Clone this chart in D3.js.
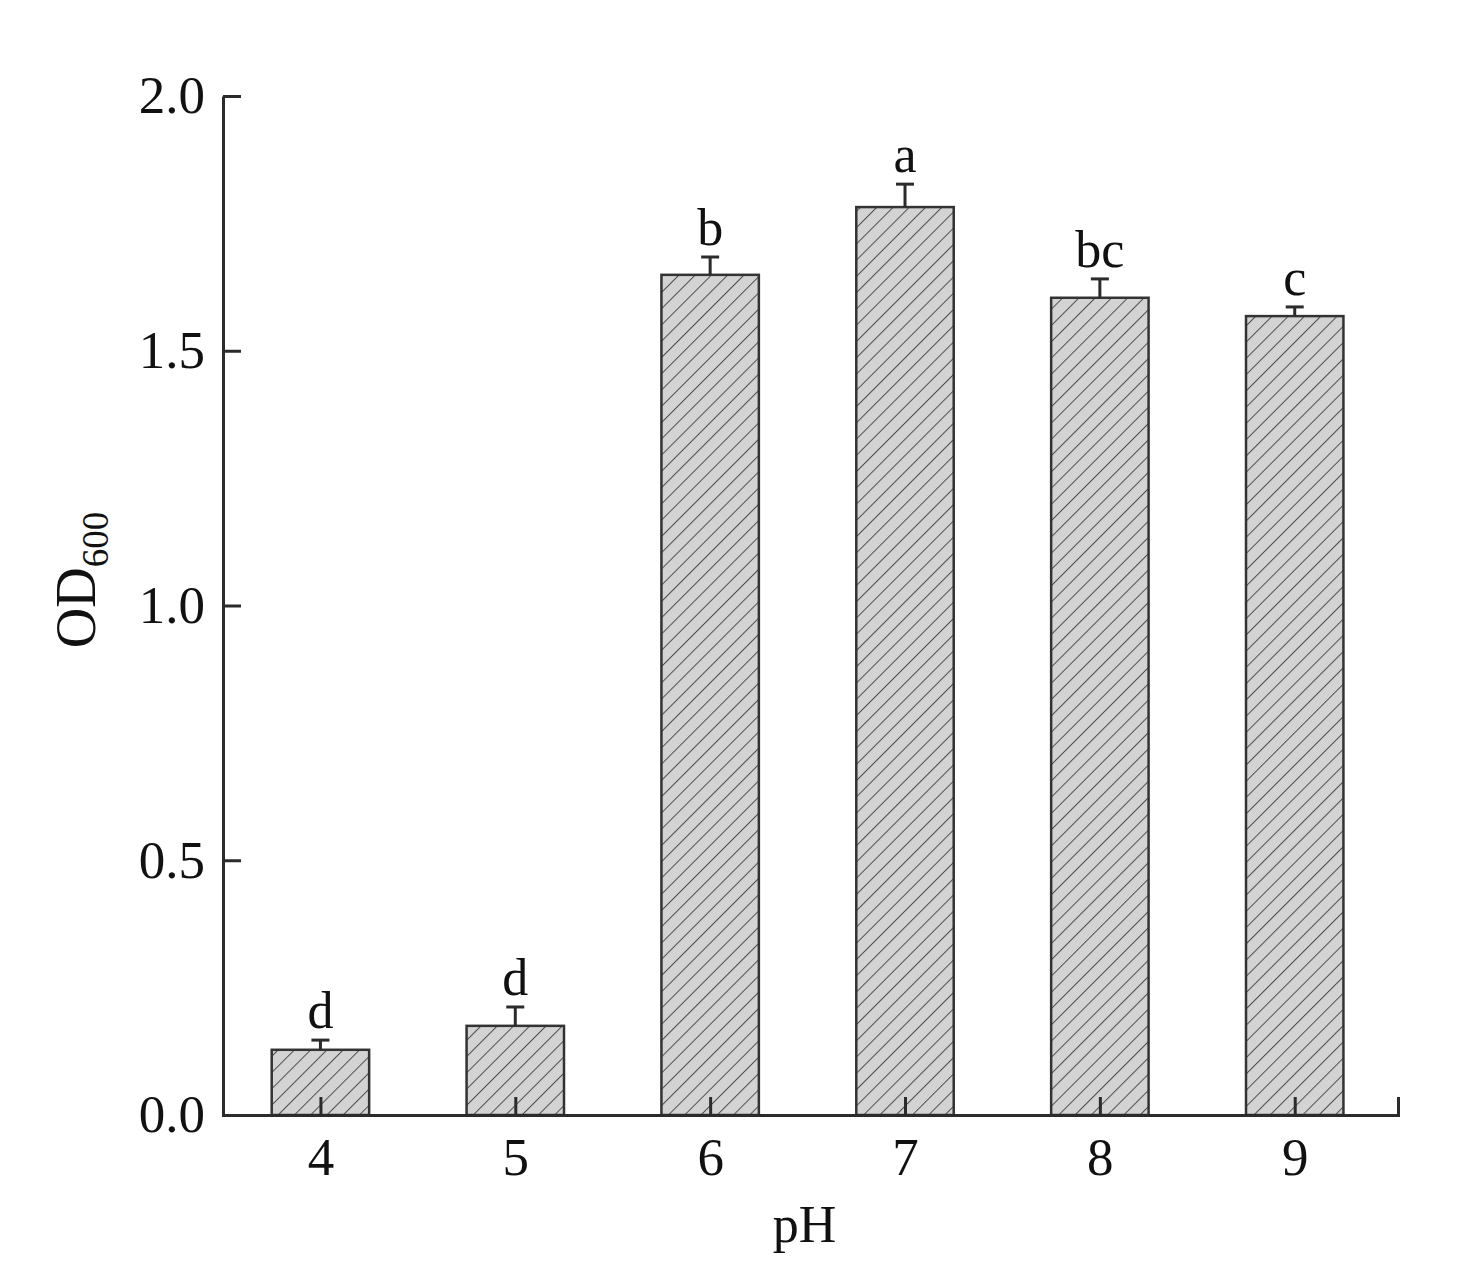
<!DOCTYPE html>
<html>
<head>
<meta charset="utf-8">
<script src="https://cdn.jsdelivr.net/npm/d3@7"></script>
<style>
  body { margin: 0; background: #fff; }
  svg { display: block; font-family: "Liberation Serif", "Times New Roman", serif; }
  .axis path, .axis line { stroke: #2b2b2b; stroke-width: 3; }
  .axis text { fill: #111; font-size: 53px; font-family: "Liberation Serif", serif; }
</style>
</head>
<body>
<div id="chart"></div>
<script>
// values
const phValues = [4, 5, 6, 7, 8, 9];
const odMeans = [0.128, 0.175, 1.649, 1.782, 1.604, 1.568];
const odErrors = [0.019, 0.037, 0.035, 0.045, 0.037, 0.018];
const sigLetters = ["d", "d", "b", "a", "bc", "c"];
const yTicks = [0, 0.5, 1.0, 1.5, 2.0];

const W = 1480, H = 1274;
const margin = { top: 96, right: 82, bottom: 159, left: 223 };
const width = W - margin.left - margin.right;
const height = H - margin.top - margin.bottom;

const svg = d3.select("#chart").append("svg")
    .attr("width", W)
    .attr("height", H);

// hatch fill for the bars
const hatch = 11.5;
const defs = svg.append("defs");
const pat = defs.append("pattern")
    .attr("id", "hatch")
    .attr("patternUnits", "userSpaceOnUse")
    .attr("width", hatch)
    .attr("height", hatch)
    .attr("patternTransform", "rotate(45)");
pat.append("rect").attr("width", hatch).attr("height", hatch).attr("fill", "#d3d3d3");
pat.append("line")
    .attr("x1", 0).attr("y1", 0).attr("x2", 0).attr("y2", hatch)
    .attr("stroke", "#4d4d4d").attr("stroke-width", 2);

const g = svg.append("g")
    .attr("transform", `translate(${margin.left},${margin.top})`);

const x = d3.scaleLinear().domain([3.5, 9.53]).range([0, width]);
const y = d3.scaleLinear().domain([0, 2]).range([height, 0]);
const barW = x(4.5) - x(4);

const data = phValues.map((ph, i) => ({
    ph, mean: odMeans[i], err: odErrors[i], label: sigLetters[i]
}));

// bars
g.selectAll("rect.bar")
    .data(data)
    .join("rect")
    .attr("class", "bar")
    .attr("x", d => x(d.ph) - barW / 2)
    .attr("y", d => y(d.mean))
    .attr("width", barW)
    .attr("height", d => y(0) - y(d.mean))
    .attr("fill", "url(#hatch)")
    .attr("stroke", "#333")
    .attr("stroke-width", 2.5);

// upper error bars
const eb = g.selectAll("g.err").data(data).join("g").attr("class", "err")
    .attr("stroke", "#2b2b2b").attr("stroke-width", 3);
eb.append("line")
    .attr("x1", d => x(d.ph)).attr("x2", d => x(d.ph))
    .attr("y1", d => y(d.mean)).attr("y2", d => y(d.mean + d.err));
eb.append("line")
    .attr("x1", d => x(d.ph) - 9).attr("x2", d => x(d.ph) + 9)
    .attr("y1", d => y(d.mean + d.err)).attr("y2", d => y(d.mean + d.err));

// significance letters
g.selectAll("text.sig")
    .data(data)
    .join("text")
    .attr("class", "sig")
    .attr("x", d => x(d.ph))
    .attr("y", d => y(d.mean + d.err) - 12)
    .attr("text-anchor", "middle")
    .attr("font-size", 52)
    .attr("fill", "#111")
    .text(d => d.label);

// axes, ticks point inward
const xAxis = g.append("g")
    .attr("class", "axis")
    .attr("transform", `translate(0,${height})`)
    .call(d3.axisBottom(x)
        .tickValues(phValues)
        .tickFormat(d3.format("d"))
        .tickSizeInner(-18)
        .tickSizeOuter(-18)
        .tickPadding(22));
xAxis.selectAll("path").attr("fill", "none");

const yAxis = g.append("g")
    .attr("class", "axis")
    .call(d3.axisLeft(y)
        .tickValues(yTicks)
        .tickFormat(d3.format(".1f"))
        .tickSizeInner(-18)
        .tickSizeOuter(0)
        .tickPadding(18));
yAxis.selectAll("path").attr("fill", "none");

// axis titles
g.append("text")
    .attr("x", x(6.485))
    .attr("y", height + 127)
    .attr("text-anchor", "middle")
    .attr("font-size", 52)
    .attr("fill", "#111")
    .text("pH");

const yTitle = g.append("text")
    .attr("transform", `translate(${95 - margin.left},${y(1.05)}) rotate(-90)`)
    .attr("text-anchor", "middle")
    .attr("font-size", 56)
    .attr("fill", "#111");
yTitle.append("tspan").text("OD");
yTitle.append("tspan").attr("font-size", 37).attr("dy", 13).text("600");
</script>
</body>
</html>
